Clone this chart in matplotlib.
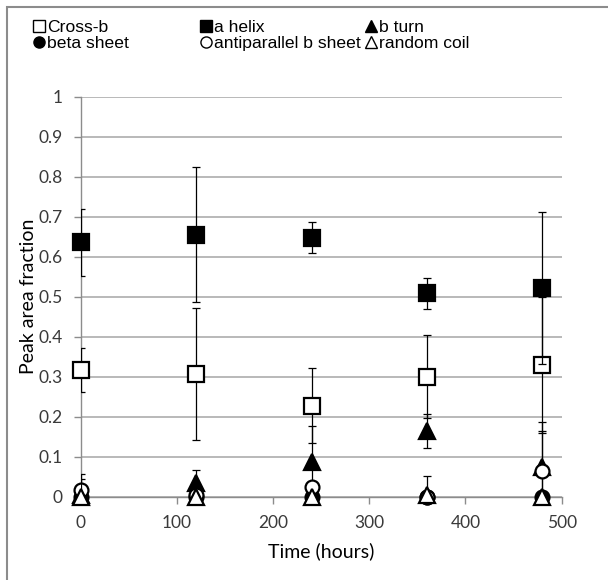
import matplotlib
matplotlib.use("Agg")
import matplotlib.pyplot as plt
from matplotlib.patches import Rectangle
from matplotlib.lines import Line2D

# ---- data ----
time_h = [0, 120, 240, 360, 480]

cross_b = [0.318, 0.307, 0.228, 0.300, 0.330]
cross_b_err = [0.055, 0.165, 0.094, 0.104, 0.170]

a_helix = [0.636, 0.655, 0.648, 0.509, 0.522]
a_helix_err = [0.083, 0.168, 0.038, 0.039, 0.190]

b_turn = [0.005, 0.035, 0.088, 0.165, 0.075]
b_turn_err = [0.0, 0.033, 0.090, 0.042, 0.090]

beta_sheet = [0.0, 0.0, 0.0, 0.0, 0.0]
beta_sheet_err = [0.0, 0.0, 0.0, 0.0, 0.0]

antiparallel = [0.018, 0.005, 0.025, 0.0, 0.065]
antiparallel_err = [0.040, 0.0, 0.0, 0.0, 0.122]

random_coil = [0.0, 0.0, 0.0, 0.005, 0.0]
random_coil_err = [0.045, 0.0, 0.0, 0.048, 0.0]

series_names = ["Cross-b", "a helix", "b turn", "beta sheet",
                "antiparallel b sheet", "random coil"]
y_ticks = [0, 0.1, 0.2, 0.3, 0.4, 0.5, 0.6, 0.7, 0.8, 0.9, 1]
y_tick_labels = ["0", "0.1", "0.2", "0.3", "0.4", "0.5", "0.6", "0.7", "0.8", "0.9", "1"]
x_ticks = [0, 100, 200, 300, 400, 500]

# ---- figure ----
W, H = 608, 580
fig = plt.figure(figsize=(W / 100, H / 100), dpi=100)
ax = fig.add_axes([80.7 / W, (H - 496.7) / H, 481 / W, 400 / H])

tick_font = "Lato"
grid_col = "#b3b3b3"
axis_col = "#8c8c8c"

styles = [
    dict(marker="s", ms=11.5, mfc="white"),
    dict(marker="s", ms=11.5, mfc="black"),
    dict(marker="^", ms=11.5, mfc="black"),
    dict(marker="o", ms=10, mfc="black"),
    dict(marker="o", ms=10, mfc="white"),
    dict(marker="^", ms=11.5, mfc="white"),
]
data = [(cross_b, cross_b_err), (a_helix, a_helix_err), (b_turn, b_turn_err),
        (beta_sheet, beta_sheet_err), (antiparallel, antiparallel_err),
        (random_coil, random_coil_err)]

for i, ((vals, errs), st) in enumerate(zip(data, styles)):
    ax.errorbar(time_h, vals, yerr=errs, fmt="none", ecolor="black",
                elinewidth=0.9, capsize=2.8, capthick=0.9, zorder=3 + 2 * i)
    ax.plot(time_h, vals, linestyle="none", marker=st["marker"], ms=st["ms"],
            mfc=st["mfc"], mec="black", mew=1.6, zorder=4 + 2 * i, clip_on=False)

ax.set_xlim(0, 500)
ax.set_ylim(0, 1)
ax.set_yticks(y_ticks)
ax.set_yticklabels(y_tick_labels)
ax.set_xticks(x_ticks)
ax.grid(axis="y", color=grid_col, lw=1.3, zorder=0)
ax.set_axisbelow(True)
for s in ["top", "right"]:
    ax.spines[s].set_visible(False)
for s in ["left", "bottom"]:
    ax.spines[s].set_color(axis_col)
    ax.spines[s].set_linewidth(1.0)
ax.tick_params(axis="both", direction="out", length=5, width=1.0, color=axis_col,
               labelsize=12.5, labelcolor="#3a3a3a")
ax.tick_params(axis="y", pad=8)
ax.tick_params(axis="x", pad=8)
for lab in ax.get_xticklabels() + ax.get_yticklabels():
    lab.set_fontfamily(tick_font)

ax.set_xlabel("Time (hours)", fontsize=14, fontfamily=tick_font, color="black", labelpad=8)
ax.set_ylabel("Peak area fraction", fontsize=14, fontfamily=tick_font, color="black", labelpad=1)

# ---- legend (three columns of two entries) ----
handles = [Line2D([], [], linestyle="none", marker=st["marker"], ms=8,
                  mfc=st["mfc"], mec="black", mew=1.0) for st in styles]
col_x = [34, 201, 366]
for c in range(3):
    idx = [c, c + 3]
    fig.legend([handles[j] for j in idx], [series_names[j] for j in idx],
               loc="upper left", bbox_to_anchor=(col_x[c] / W, 1 - 20 / H),
               frameon=False, handlelength=0.6, handletextpad=0.15,
               labelspacing=0.02, borderpad=0, borderaxespad=0,
               prop={"family": "Liberation Sans", "size": 12.6})

# ---- outer chart border ----
fig.patches.append(Rectangle((7 / W, -0.1), 2, (H - 7) / H + 0.1,
                             transform=fig.transFigure, fill=False,
                             edgecolor="#8c8c8c", lw=1.5))

fig.savefig("out.png", dpi=100)
